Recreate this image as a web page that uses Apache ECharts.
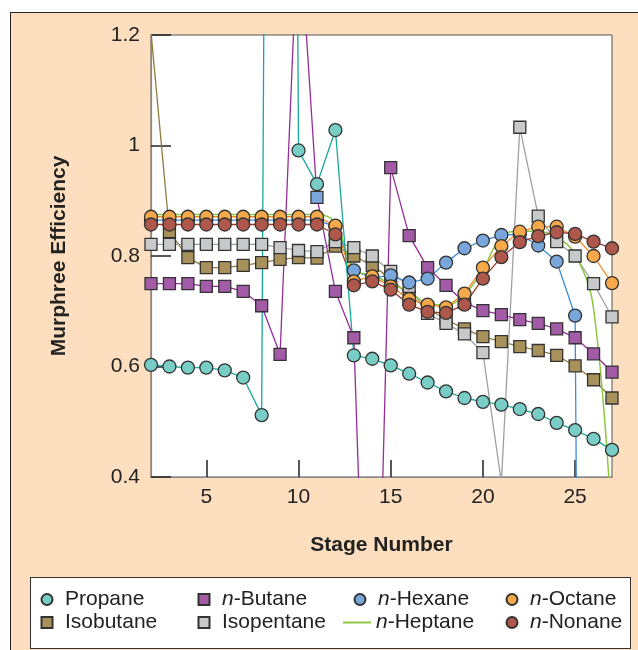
<!DOCTYPE html>
<html>
<head>
<meta charset="UTF-8">
<title>Murphree Efficiency</title>
<script src="https://cdn.jsdelivr.net/npm/echarts@6/dist/echarts.min.js"></script>
<style>
    body { margin: 0; background: #fff; }
    .frame {
        position: absolute; left: 10px; top: 12px; width: 640px; height: 650px;
        background: #FDDFBF; border-top: 1.5px solid #222; border-left: 1.5px solid #222;
    }
    .legend-box {
        position: absolute; left: 30px; top: 577px; width: 601px; height: 72px;
        background: #fff; border: 1px solid #333; box-sizing: border-box;
    }
    #chart { position: absolute; left: 0; top: 0; width: 638px; height: 650px; }
</style>
</head>
<body>
<div class="frame"></div>
<div class="legend-box"></div>
<div id="chart"></div>
<script>
// stage numbers 2..27
const stages = [2, 3, 4, 5, 6, 7, 8, 9, 10, 11, 12, 13, 14, 15, 16, 17, 18, 19, 20, 21, 22, 23, 24, 25, 26, 27];
const xTicks = [5, 10, 15, 20, 25];

const propane    = [0.603, 0.600, 0.598, 0.598, 0.593, 0.580, 0.512, 6.5, 0.991, 0.930, 1.028, 0.620, 0.614, 0.602, 0.587, 0.571, 0.555, 0.543, 0.536, 0.531, 0.523, 0.514, 0.498, 0.485, 0.469, 0.449];
const nButane    = [0.750, 0.750, 0.750, 0.745, 0.745, 0.736, 0.710, 0.622, 1.42, 0.906, 0.736, 0.652, -0.35, 0.960, 0.837, 0.779, 0.747, 0.716, 0.701, 0.694, 0.685, 0.678, 0.668, 0.652, 0.623, 0.590];
const isobutane  = [1.205, 0.844, 0.797, 0.779, 0.779, 0.783, 0.788, 0.794, 0.797, 0.796, 0.818, 0.800, 0.783, 0.759, 0.728, 0.705, 0.685, 0.668, 0.654, 0.645, 0.636, 0.629, 0.620, 0.601, 0.576, 0.543];
const isopentane = [0.821, 0.821, 0.821, 0.821, 0.821, 0.821, 0.821, 0.815, 0.810, 0.808, 0.826, 0.815, 0.800, 0.772, 0.745, 0.696, 0.678, 0.659, 0.625, 0.39, 1.033, 0.872, 0.826, 0.800, 0.750, 0.690];
const nHexane    = [0.865, 0.865, 0.865, 0.865, 0.865, 0.865, 0.865, 0.865, 0.865, 0.865, 0.853, 0.774, 0.760, 0.765, 0.752, 0.759, 0.788, 0.814, 0.828, 0.838, 0.839, 0.819, 0.790, 0.692, -4, null];
const nHeptane   = [0.875, 0.875, 0.875, 0.875, 0.875, 0.875, 0.875, 0.875, 0.875, 0.875, 0.860, 0.775, 0.765, 0.750, 0.735, 0.714, 0.711, 0.730, 0.775, 0.835, 0.845, 0.845, 0.834, 0.803, 0.705, 0.30];
const nOctane    = [0.871, 0.871, 0.871, 0.871, 0.871, 0.871, 0.871, 0.871, 0.871, 0.871, 0.855, 0.754, 0.763, 0.745, 0.722, 0.712, 0.707, 0.732, 0.779, 0.818, 0.844, 0.853, 0.853, 0.835, 0.800, 0.751];
const nNonane    = [0.857, 0.857, 0.857, 0.857, 0.857, 0.857, 0.857, 0.857, 0.857, 0.857, 0.839, 0.747, 0.754, 0.739, 0.712, 0.699, 0.697, 0.712, 0.759, 0.798, 0.825, 0.836, 0.843, 0.840, 0.826, 0.814];

const font = 'Liberation Sans, Arial, Helvetica, sans-serif';
const squareIcon = 'path://M0,0H10V10H0Z';

function pairs(vals) {
    return stages.map((s, i) => [s, vals[i]]);
}

function markSeries(name, vals, symbol, fill, line, size) {
    return {
        name: name,
        type: 'line',
        data: pairs(vals),
        symbol: symbol,
        symbolSize: size,
        clip: true,
        color: fill,
        itemStyle: { color: fill, borderColor: '#333', borderWidth: 1.3 },
        lineStyle: { color: line, width: 1.3 },
        emphasis: { disabled: true }
    };
}

// n-Butane stage 11 point is drawn blue in the original
const butaneSeries = markSeries('n-Butane', nButane, 'rect', '#A35BA8', '#952E98', 12);
butaneSeries.data[9] = { value: [11, nButane[9]], itemStyle: { color: '#7BA6DA' } };

const series = [
    markSeries('Isobutane', isobutane, 'rect', '#A8915A', '#8C7A3E', 12),
    markSeries('Isopentane', isopentane, 'rect', '#C8C9CB', '#A0A0A0', 12),
    butaneSeries,
    markSeries('n-Hexane', nHexane, 'circle', '#79A6DB', '#3F8BD6', 13),
    {
        name: 'n-Heptane',
        type: 'line',
        data: pairs(nHeptane),
        symbol: 'none',
        smooth: 0.4,
        clip: true,
        color: '#8DC641',
        lineStyle: { color: '#8DC641', width: 1.5 },
        emphasis: { disabled: true }
    },
    markSeries('n-Octane', nOctane, 'circle', '#F6A94B', '#F08A24', 13),
    markSeries('n-Nonane', nNonane, 'circle', '#AE574B', '#9A3A2F', 13),
    markSeries('Propane', propane, 'circle', '#79CDC7', '#17A898', 13)
];

// one legend per entry so the four columns sit where the original has them
// (left = left edge of the marker)
const legendItems = [
    { name: 'Propane', left: 40.5, top: 589, icon: 'circle' },
    { name: 'n-Butane', left: 197.5, top: 589, icon: squareIcon },
    { name: 'n-Hexane', left: 353.5, top: 589, icon: 'circle' },
    { name: 'n-Octane', left: 505.5, top: 589, icon: 'circle' },
    { name: 'Isobutane', left: 40.5, top: 612, icon: squareIcon },
    { name: 'Isopentane', left: 197.5, top: 612, icon: squareIcon },
    { name: 'n-Heptane', left: 343, top: 612, icon: 'rect', w: 28, h: 2 },
    { name: 'n-Nonane', left: 505.5, top: 612, icon: 'circle' }
];

const legends = legendItems.map(it => ({
    data: [it.name],
    left: it.left,
    top: it.top,
    padding: 0,
    icon: it.icon,
    symbolKeepAspect: true,
    itemWidth: it.w || 26,
    itemHeight: it.h || 11,
    selectedMode: false,
    formatter: n => n.indexOf('n-') === 0 ? '{i|n}-' + n.slice(2) : n,
    textStyle: {
        fontFamily: font, fontSize: 21, color: '#222',
        rich: { i: { fontFamily: font, fontSize: 21, color: '#222', fontStyle: 'italic' } }
    }
}));

const chart = echarts.init(document.getElementById('chart'), null, { renderer: 'canvas' });
chart.setOption({
    backgroundColor: 'transparent',
    animation: false,
    grid: {
        left: 151, right: 26, top: 35, bottom: 173,
        show: true, backgroundColor: '#fff', borderColor: '#555', borderWidth: 1
    },
    legend: legends,
    xAxis: {
        type: 'value',
        min: 2, max: 27,
        name: 'Stage Number',
        nameLocation: 'middle',
        nameGap: 58,
        nameTextStyle: { fontFamily: font, fontSize: 21, fontWeight: 'bold', color: '#222' },
        axisLine: { lineStyle: { color: '#888', width: 1.2 } },
        axisTick: { inside: true, length: 17, customValues: xTicks, lineStyle: { color: '#222', width: 1.5 } },
        axisLabel: { customValues: xTicks, margin: 10, fontFamily: font, fontSize: 21, color: '#222' },
        splitLine: { show: false }
    },
    yAxis: {
        type: 'value',
        min: 0.4, max: 1.2, interval: 0.2,
        name: 'Murphree Efficiency',
        nameLocation: 'middle',
        nameGap: 81,
        nameTextStyle: { fontFamily: font, fontSize: 21, fontWeight: 'bold', color: '#222' },
        axisLine: { lineStyle: { color: '#888', width: 1.2 } },
        axisTick: { inside: true, length: 20, lineStyle: { color: '#222', width: 1.5 } },
        axisLabel: { margin: 11, fontFamily: font, fontSize: 21, color: '#222' },
        splitLine: { show: false }
    },
    series: series
});

window.addEventListener('resize', function() {
    chart && chart.resize();
});
</script>
</body>
</html>
